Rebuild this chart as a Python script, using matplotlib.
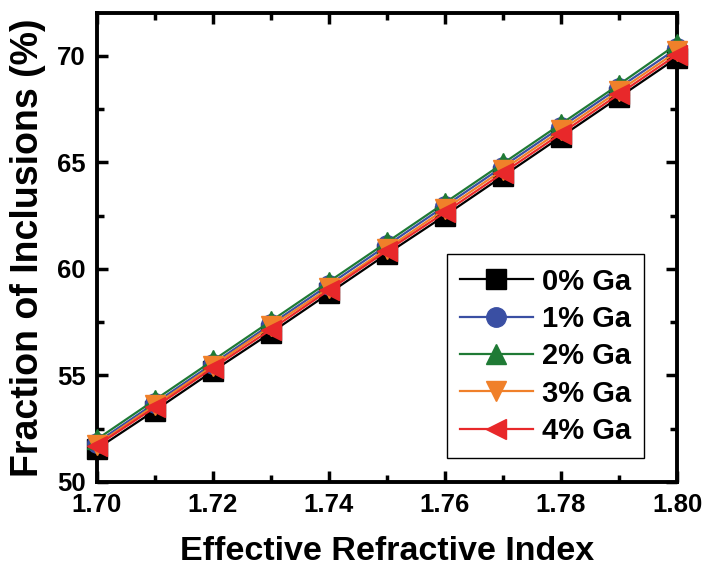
import matplotlib
matplotlib.use("Agg")
import matplotlib.pyplot as plt
from matplotlib.ticker import MultipleLocator, FormatStrFormatter

plt.rcParams['font.family'] = ['Liberation Sans', 'DejaVu Sans']
plt.rcParams['font.weight'] = 'bold'

n_eff = [1.70, 1.71, 1.72, 1.73, 1.74, 1.75, 1.76, 1.77, 1.78, 1.79, 1.80]
ga0 = [51.55, 53.35, 55.20, 57.00, 58.85, 60.70, 62.50, 64.35, 66.20, 68.05, 69.90]
ga1 = [51.85, 53.70, 55.55, 57.40, 59.25, 61.10, 62.95, 64.80, 66.65, 68.50, 70.35]
ga2 = [52.00, 53.85, 55.70, 57.55, 59.40, 61.25, 63.10, 64.95, 66.80, 68.65, 70.55]
ga3 = [51.75, 53.60, 55.45, 57.30, 59.10, 60.95, 62.80, 64.65, 66.50, 68.35, 70.20]
ga4 = [51.70, 53.50, 55.35, 57.15, 59.00, 60.85, 62.65, 64.50, 66.35, 68.20, 70.05]
labels = ['0% Ga', '1% Ga', '2% Ga', '3% Ga', '4% Ga']

series = [ga0, ga1, ga2, ga3, ga4]
colors = ['#000000', '#3a4fa3', '#1f7a35', '#f0802a', '#e8282a']
markers = ['s', 'o', '^', 'v', '<']

fig = plt.figure(figsize=(7.07, 5.71), dpi=100)
ax = fig.add_axes([0.137, 0.156, 0.8206, 0.821])

for ys, c, m, lab in zip(series, colors, markers, labels):
    ax.plot(n_eff, ys, color=c, marker=m, markersize=14, linewidth=1.6,
            label=lab, clip_on=False, zorder=3)

ax.set_xlim(1.70, 1.80)
ax.set_ylim(50, 72)
ax.xaxis.set_major_locator(MultipleLocator(0.02))
ax.xaxis.set_minor_locator(MultipleLocator(0.01))
ax.yaxis.set_major_locator(MultipleLocator(5))
ax.yaxis.set_minor_locator(MultipleLocator(2.5))
ax.xaxis.set_major_formatter(FormatStrFormatter('%.2f'))

for s in ax.spines.values():
    s.set_linewidth(2.8)
ax.tick_params(which='both', direction='in', top=True, right=True, width=2.5)
ax.tick_params(which='major', length=8, labelsize=18.5)
ax.tick_params(axis='x', which='major', pad=8)
ax.tick_params(axis='y', which='major', pad=8)
ax.tick_params(which='minor', length=5)
for t in ax.get_xticklabels() + ax.get_yticklabels():
    t.set_fontweight('bold')

ax.set_xlabel('Effective Refractive Index', fontsize=24.5, fontweight='bold', labelpad=14)
ax.set_ylabel('Fraction of Inclusions (%)', fontsize=27, fontweight='bold', labelpad=8)

leg = ax.legend(loc='lower right', bbox_to_anchor=(0.943, 0.051), borderaxespad=0,
                prop={'weight': 'bold', 'size': 21}, handlelength=2.5,
                fancybox=False, edgecolor='black', framealpha=1,
                borderpad=0.45, labelspacing=0.32, handletextpad=0.3)
leg.get_frame().set_linewidth(1.0)

fig.savefig('out.png', dpi=100)
